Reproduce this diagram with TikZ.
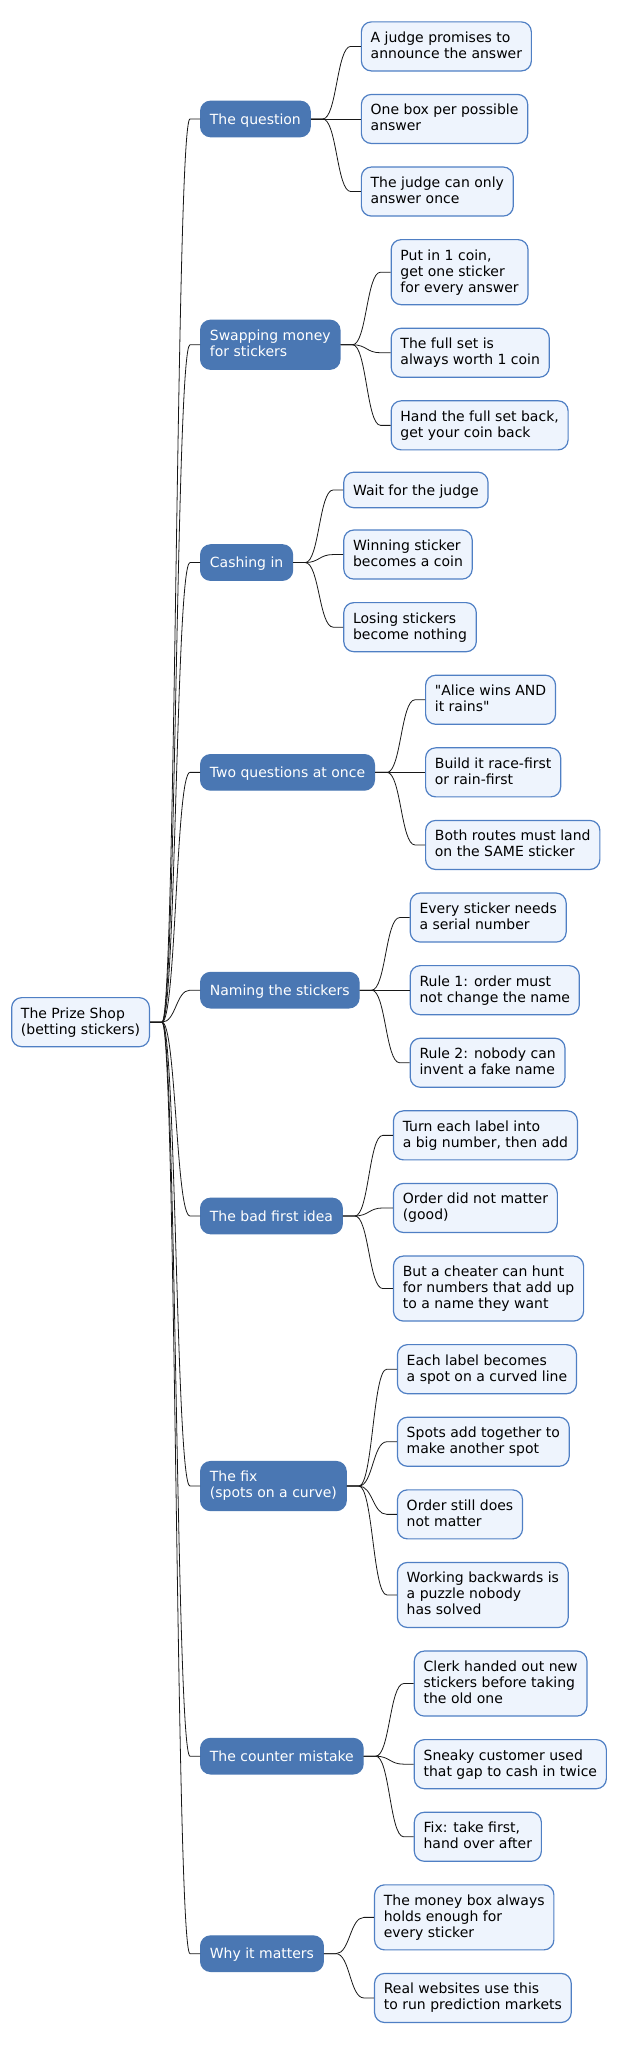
\documentclass[tikz,border=0pt]{standalone}
\usepackage{fontspec}
\setmainfont{DejaVu Sans}[Ligatures=TeXOff]
\usetikzlibrary{positioning}

\definecolor{topicblue}{HTML}{4A77B3}
\definecolor{leaffill}{HTML}{EEF4FD}
\definecolor{leafline}{HTML}{4F7FC4}
\definecolor{linkgray}{HTML}{181818}

\newcommand{\tstrut}{\rule[-2.9pt]{0pt}{16pt}}

\tikzset{
  box/.style={rounded corners=10pt, line width=1.2pt, align=left,
    inner xsep=9.3pt, inner ysep=9.75pt,
    font=\fontsize{14pt}{16pt}\selectfont,
    execute at begin node=\tstrut, execute at end node=\tstrut},
  topic/.style={box, draw=topicblue, fill=topicblue, text=white},
  leaf/.style={box, draw=leafline, fill=leaffill, text=black},
  link/.style={draw=linkgray, line width=0.8pt},
  branch/.style={to path={-- ++(12pt,0) .. controls +(14pt,0) and +(-14pt,0) .. ([xshift=-10pt]\tikztotarget) -- (\tikztotarget)}}
}

\begin{document}
\begin{tikzpicture}[x=1pt, y=1pt]
  \useasboundingbox (0,0) rectangle (618,-2046);

  % root and the nine topics
  \node[leaf, anchor=east] (root) at (150,-1022.15) {The Prize Shop\\(betting stickers)};
  \node[topic, anchor=west] (q) at (200,-118.95) {The question};
  \node[topic, anchor=west] (s) at (200,-344.75) {Swapping money\\for stickers};
  \node[topic, anchor=west] (c) at (200,-562.55) {Cashing in};
  \node[topic, anchor=west] (t) at (200,-772.35) {Two questions at once};
  \node[topic, anchor=west] (n) at (200,-990.15) {Naming the stickers};
  \node[topic, anchor=west] (b) at (200,-1215.95) {The bad first idea};
  \node[topic, anchor=west] (f) at (200,-1486.05) {The fix\\(spots on a curve)};
  \node[topic, anchor=west] (k) at (200,-1756.15) {The counter mistake};
  \node[topic, anchor=west] (w) at (200,-1953.65) {Why it matters};

  % leaves
  \node[leaf, right=50pt of q, yshift=72.55pt] (q1) {A judge promises to\\announce the answer};
  \node[leaf, right=50pt of q] (q2) {One box per possible\\answer};
  \node[leaf, right=50pt of q, yshift=-72.6pt] (q3) {The judge can only\\answer once};

  \node[leaf, right=50pt of s, yshift=72.6pt] (s1) {Put in 1 coin,\\get one sticker\\for every answer};
  \node[leaf, right=50pt of s, yshift=-8pt] (s2) {The full set is\\always worth 1 coin};
  \node[leaf, right=50pt of s, yshift=-80.6pt] (s3) {Hand the full set back,\\get your coin back};

  \node[leaf, right=50pt of c, yshift=72.6pt] (c1) {Wait for the judge};
  \node[leaf, right=50pt of c, yshift=8pt] (c2) {Winning sticker\\becomes a coin};
  \node[leaf, right=50pt of c, yshift=-64.6pt] (c3) {Losing stickers\\become nothing};

  \node[leaf, right=50pt of t, yshift=72.6pt] (t1) {"Alice wins AND\\it rains"};
  \node[leaf, right=50pt of t] (t2) {Build it race-first\\or rain-first};
  \node[leaf, right=50pt of t, yshift=-72.6pt] (t3) {Both routes must land\\on the SAME sticker};

  \node[leaf, right=50pt of n, yshift=72.6pt] (n1) {Every sticker needs\\a serial number};
  \node[leaf, right=50pt of n] (n2) {Rule 1: order must\\not change the name};
  \node[leaf, right=50pt of n, yshift=-72.6pt] (n3) {Rule 2: nobody can\\invent a fake name};

  \node[leaf, right=50pt of b, yshift=80.6pt] (b1) {Turn each label into\\a big number, then add};
  \node[leaf, right=50pt of b, yshift=8pt] (b2) {Order did not matter\\(good)};
  \node[leaf, right=50pt of b, yshift=-72.6pt] (b3) {But a cheater can hunt\\for numbers that add up\\to a name they want};

  \node[leaf, right=50pt of f, yshift=116.9pt] (f1) {Each label becomes\\a spot on a curved line};
  \node[leaf, right=50pt of f, yshift=44.3pt] (f2) {Spots add together to\\make another spot};
  \node[leaf, right=50pt of f, yshift=-28.3pt] (f3) {Order still does\\not matter};
  \node[leaf, right=50pt of f, yshift=-108.9pt] (f4) {Working backwards is\\a puzzle nobody\\has solved};

  \node[leaf, right=50pt of k, yshift=72.6pt] (k1) {Clerk handed out new\\stickers before taking\\the old one};
  \node[leaf, right=50pt of k, yshift=-8pt] (k2) {Sneaky customer used\\that gap to cash in twice};
  \node[leaf, right=50pt of k, yshift=-80.6pt] (k3) {Fix: take first,\\hand over after};

  \node[leaf, right=50pt of w, yshift=36.3pt] (w1) {The money box always\\holds enough for\\every sticker};
  \node[leaf, right=50pt of w, yshift=-44.3pt] (w2) {Real websites use this\\to run prediction markets};

  \begin{scope}[link]
    \draw (root.east) to[branch] (q.west);
    \draw (root.east) to[branch] (s.west);
    \draw (root.east) to[branch] (c.west);
    \draw (root.east) to[branch] (t.west);
    \draw (root.east) to[branch] (n.west);
    \draw (root.east) to[branch] (b.west);
    \draw (root.east) to[branch] (f.west);
    \draw (root.east) to[branch] (k.west);
    \draw (root.east) to[branch] (w.west);
    \draw (q.east) to[branch] (q1.west);
    \draw (q.east) to[branch] (q2.west);
    \draw (q.east) to[branch] (q3.west);
    \draw (s.east) to[branch] (s1.west);
    \draw (s.east) to[branch] (s2.west);
    \draw (s.east) to[branch] (s3.west);
    \draw (c.east) to[branch] (c1.west);
    \draw (c.east) to[branch] (c2.west);
    \draw (c.east) to[branch] (c3.west);
    \draw (t.east) to[branch] (t1.west);
    \draw (t.east) to[branch] (t2.west);
    \draw (t.east) to[branch] (t3.west);
    \draw (n.east) to[branch] (n1.west);
    \draw (n.east) to[branch] (n2.west);
    \draw (n.east) to[branch] (n3.west);
    \draw (b.east) to[branch] (b1.west);
    \draw (b.east) to[branch] (b2.west);
    \draw (b.east) to[branch] (b3.west);
    \draw (f.east) to[branch] (f1.west);
    \draw (f.east) to[branch] (f2.west);
    \draw (f.east) to[branch] (f3.west);
    \draw (f.east) to[branch] (f4.west);
    \draw (k.east) to[branch] (k1.west);
    \draw (k.east) to[branch] (k2.west);
    \draw (k.east) to[branch] (k3.west);
    \draw (w.east) to[branch] (w1.west);
    \draw (w.east) to[branch] (w2.west);
  \end{scope}
\end{tikzpicture}
\end{document}
